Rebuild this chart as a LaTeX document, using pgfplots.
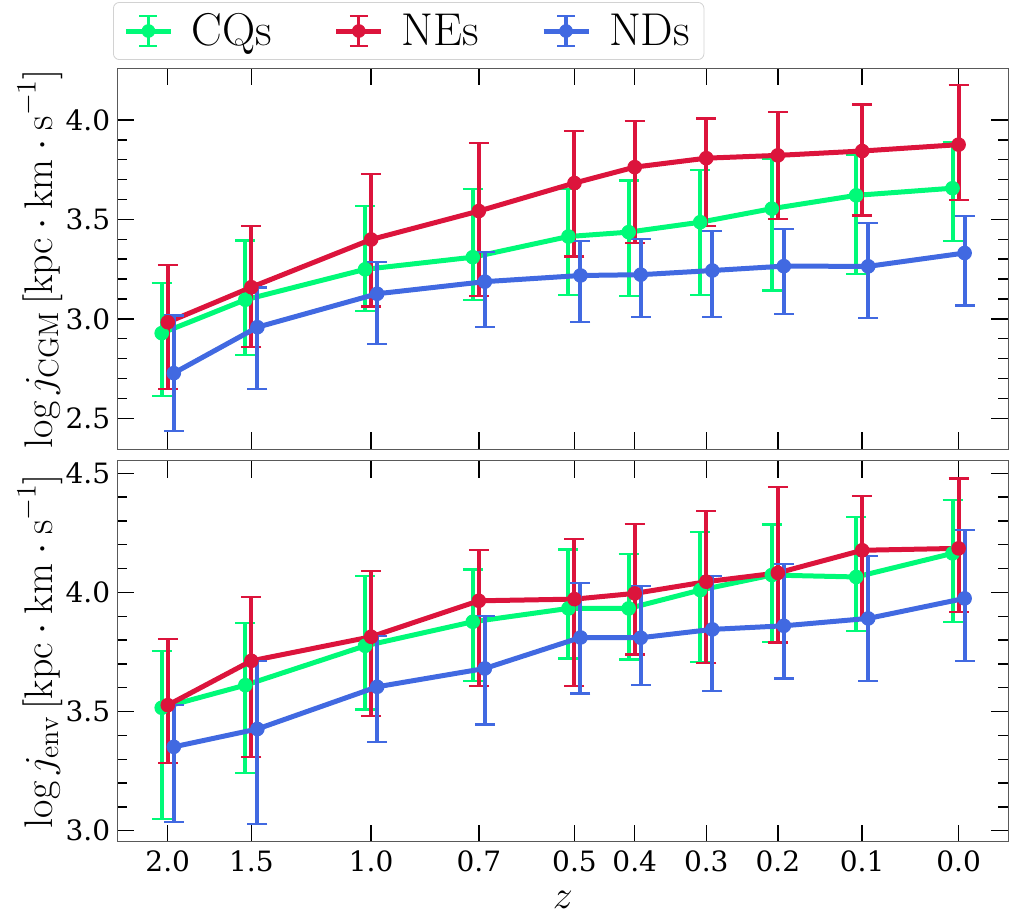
\RequirePackage{fix-cm}
\documentclass[border=0pt]{standalone}
\usepackage{fontspec}
\usepackage{pgfplots}
\usepackage{pgfplotstable}
\pgfplotsset{compat=1.18}
\newfontfamily\ticksfont{DejaVu Serif}
\definecolor{cqcol}{RGB}{0,250,120}
\definecolor{necol}{RGB}{220,20,60}
\definecolor{ndcol}{RGB}{65,105,225}
\newcommand{\labfont}{\fontsize{20}{24}\selectfont}

% columns: x (lookback-time position), y, error plus, error minus
\pgfplotstableread{
x y ep em
10.58 2.928 0.252 0.318
9.47 3.096 0.298 0.277
7.88 3.249 0.318 0.210
6.45 3.310 0.342 0.217
5.18 3.414 0.240 0.293
4.38 3.436 0.260 0.323
3.43 3.486 0.264 0.368
2.48 3.554 0.248 0.411
1.36 3.621 0.204 0.394
0.08 3.657 0.234 0.266
}\cqtop
\pgfplotstableread{
x y ep em
10.50 2.983 0.289 0.335
9.39 3.159 0.307 0.301
7.80 3.399 0.331 0.337
6.37 3.542 0.342 0.428
5.10 3.683 0.261 0.369
4.30 3.763 0.230 0.380
3.35 3.808 0.199 0.342
2.40 3.822 0.218 0.319
1.28 3.844 0.234 0.324
0.00 3.876 0.298 0.280
}\netop
\pgfplotstableread{
x y ep em
10.42 2.727 0.290 0.293
9.31 2.958 0.200 0.310
7.72 3.126 0.158 0.253
6.29 3.187 0.151 0.229
5.02 3.218 0.175 0.235
4.22 3.222 0.179 0.213
3.27 3.243 0.198 0.234
2.32 3.265 0.188 0.239
1.20 3.264 0.219 0.260
-0.08 3.331 0.188 0.264
}\ndtop
\pgfplotstableread{
x y ep em
10.58 3.516 0.238 0.467
9.47 3.611 0.261 0.370
7.88 3.776 0.294 0.267
6.45 3.877 0.219 0.249
5.18 3.933 0.247 0.210
4.38 3.933 0.228 0.214
3.43 4.010 0.244 0.301
2.48 4.073 0.212 0.280
1.36 4.065 0.252 0.226
0.08 4.164 0.223 0.287
}\cqbot
\pgfplotstableread{
x y ep em
10.50 3.527 0.276 0.242
9.39 3.713 0.269 0.403
7.80 3.814 0.275 0.333
6.37 3.965 0.212 0.357
5.10 3.972 0.252 0.365
4.30 3.996 0.290 0.256
3.35 4.045 0.297 0.340
2.40 4.082 0.361 0.292
1.28 4.177 0.227 0.287
0.00 4.185 0.293 0.266
}\nebot
\pgfplotstableread{
x y ep em
10.42 3.352 0.175 0.314
9.31 3.427 0.286 0.399
7.72 3.604 0.214 0.233
6.29 3.681 0.221 0.235
5.02 3.811 0.227 0.235
4.22 3.810 0.216 0.199
3.27 3.845 0.225 0.258
2.32 3.860 0.259 0.221
1.20 3.891 0.263 0.262
-0.08 3.975 0.286 0.262
}\ndbot

\pgfplotsset{
  panel/.style={
    scale only axis,
    width=445.5pt, height=190.5pt,
    x dir=reverse,
    xmin=-0.66, xmax=11.17,
    xtick={10.5,9.39,7.80,6.37,5.10,4.30,3.35,2.40,1.28,0},
    tick align=inside,
    xtick pos=both, ytick pos=both,
    minor y tick num=4,
    major tick length=8.5pt,
    minor tick length=5pt,
    every tick/.style={black, line width=0.7pt},
    axis line style={gray!70!black, line width=0.6pt},
    tick label style={font=\ticksfont\fontsize{14}{16}\selectfont},
    label style={font=\labfont},
    every axis y label/.style={at={(axis description cs:-0.0868,0.5)}, rotate=90, anchor=center, font=\labfont},
    /pgf/number format/assume math mode=true,
    /pgf/number format/fixed,
    /pgf/number format/fixed zerofill,
    /pgf/number format/precision=1,
  },
  ser/.style={
    color=#1, line width=2.5pt, mark=*, mark size=3.4pt,
    mark options={solid, fill=#1, line width=0.5pt},
    error bars/y dir=both,
    error bars/y explicit,
    error bars/error bar style={line width=2pt, color=#1},
    error bars/error mark options={rotate=90, line width=1.1pt, mark size=5pt, color=#1},
  },
}

\begin{document}
\begin{tikzpicture}
\useasboundingbox (-58.65pt,-36.15pt) rectangle (450.35pt,420.85pt);
% bottom panel
\begin{axis}[panel, name=bot,
  at={(0,0)}, anchor=south west,
  ymin=2.954, ymax=4.553,
  ytick={3.0,3.5,4.0,4.5},
  xticklabels={2.0,1.5,1.0,0.7,0.5,0.4,0.3,0.2,0.1,0.0},
  xticklabel style={yshift=-1pt},
  ylabel={\labfont$\log j_{\mathrm{env}}\,[\mathrm{kpc\cdot km\cdot s}^{-1}]$},
]
\addplot[ser=cqcol] table[x=x, y=y, y error plus=ep, y error minus=em] {\cqbot};
\addplot[ser=necol] table[x=x, y=y, y error plus=ep, y error minus=em] {\nebot};
\addplot[ser=ndcol] table[x=x, y=y, y error plus=ep, y error minus=em] {\ndbot};
\end{axis}
\node[anchor=center, font=\labfont, inner sep=0pt, yshift=-29pt] at (bot.south) {$z$};
% top panel
\begin{axis}[panel,
  at={(0,196.2pt)}, anchor=south west,
  ymin=2.344, ymax=4.26,
  ytick={2.5,3.0,3.5,4.0},
  xticklabels={},
  ylabel={\labfont$\log j_{\mathrm{CGM}}\,[\mathrm{kpc\cdot km\cdot s}^{-1}]$},
  legend columns=3,
  legend style={at={(axis description cs:-0.0048,1.0218)}, anchor=south west,
    draw=gray!35, rounded corners=3pt, fill=white,
    font=\fontsize{23}{26}\selectfont,
    inner xsep=5pt, inner ysep=3.5pt,
    /tikz/every odd column/.append style={column sep=7pt},
    /tikz/every even column/.append style={column sep=29pt}},
  legend cell align=left,
  legend image code/.code={
    \draw[#1, line width=2.5pt] (0pt,0pt) -- (22.5pt,0pt);
    \draw[#1, line width=1.6pt] (11.25pt,-7.5pt) -- (11.25pt,7.5pt);
    \draw[#1, line width=1.1pt] (6.75pt,-7.5pt) -- (15.75pt,-7.5pt) (6.75pt,7.5pt) -- (15.75pt,7.5pt);
    \fill[#1] (11.25pt,0pt) circle (3.2pt);
  },
]
\addplot[forget plot, ser=cqcol] table[x=x, y=y, y error plus=ep, y error minus=em] {\cqtop};
\addplot[forget plot, ser=necol] table[x=x, y=y, y error plus=ep, y error minus=em] {\netop};
\addplot[forget plot, ser=ndcol] table[x=x, y=y, y error plus=ep, y error minus=em] {\ndtop};
\addlegendimage{color=cqcol}
\addlegendentry{CQs}
\addlegendimage{color=necol}
\addlegendentry{NEs}
\addlegendimage{color=ndcol}
\addlegendentry{NDs}
\end{axis}
\end{tikzpicture}
\end{document}
